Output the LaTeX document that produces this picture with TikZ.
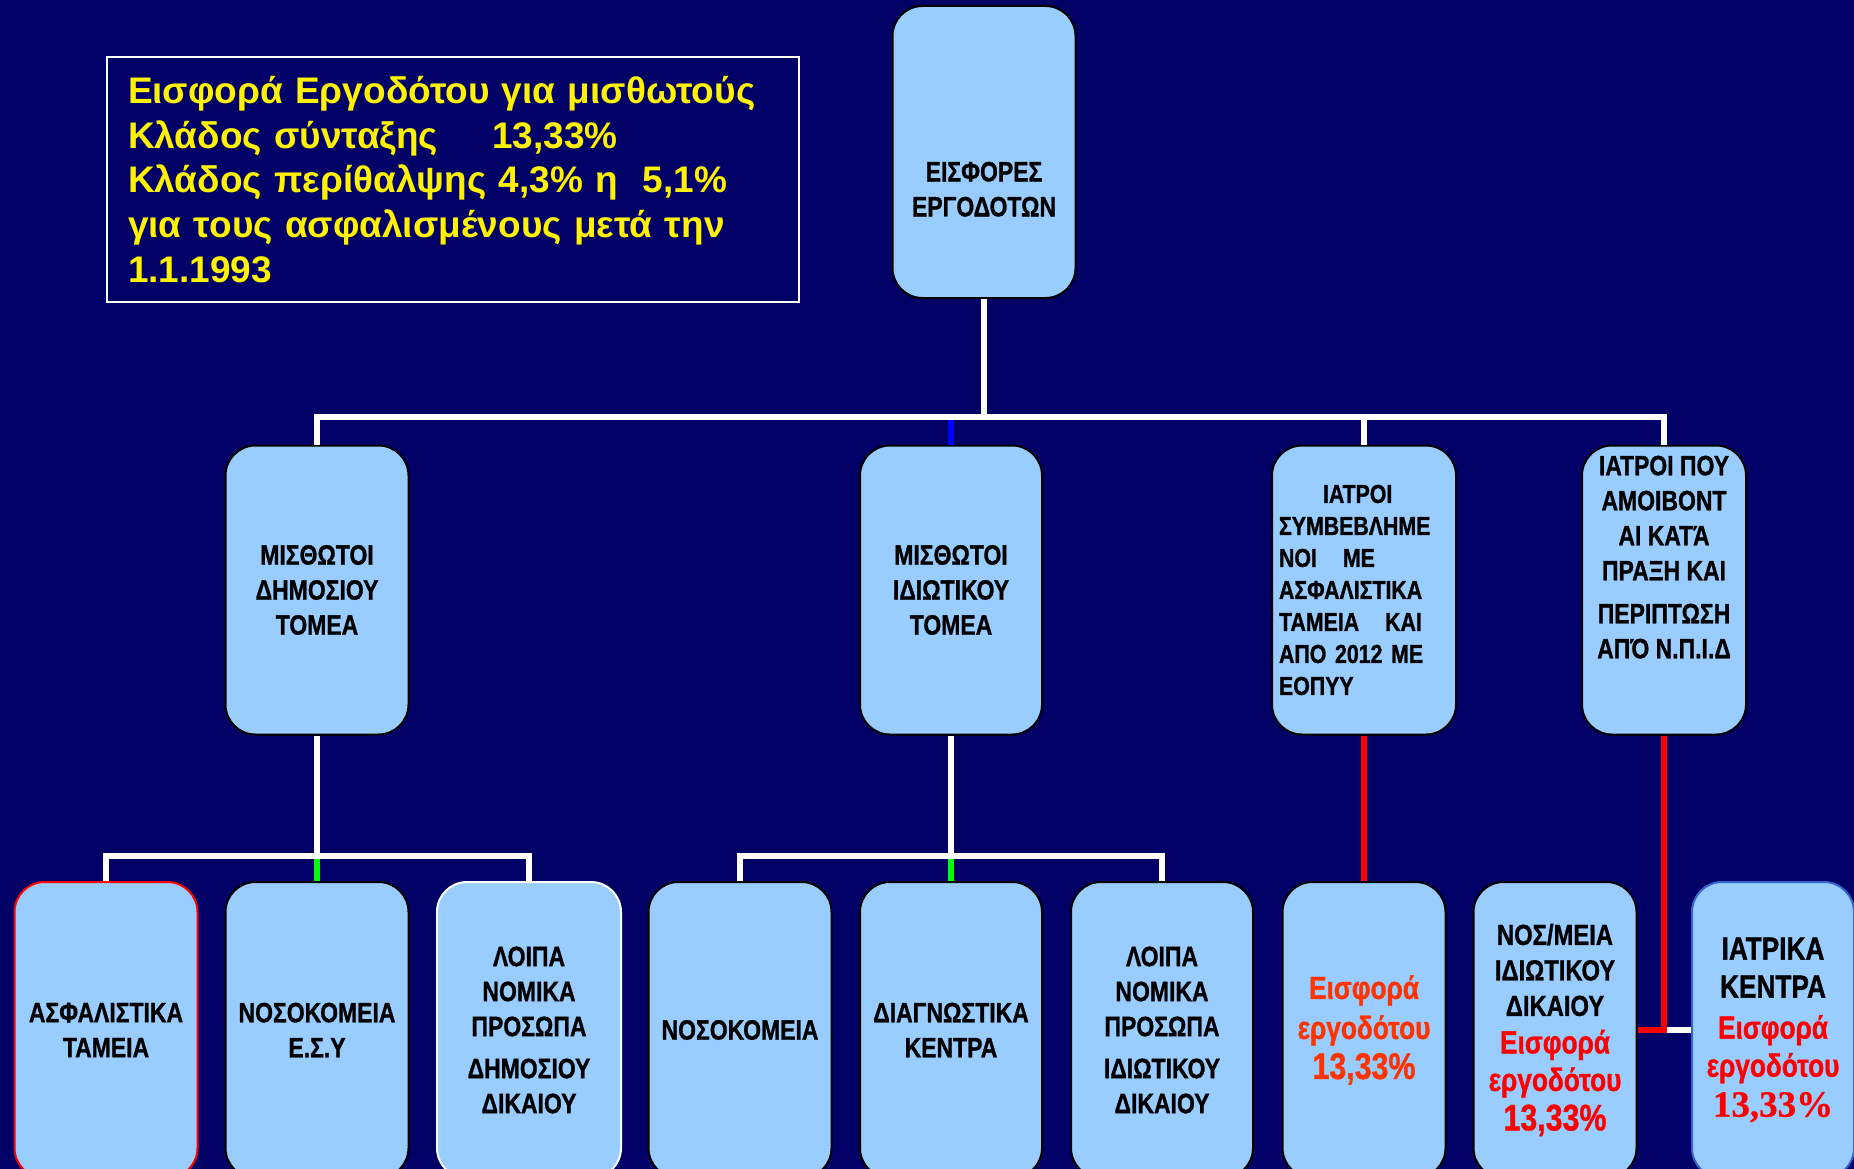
\documentclass[tikz,border=0pt]{standalone}
\usepackage{fontspec}
\setmainfont{Liberation Sans}
\newfontfamily\narrowsf[FakeStretch=0.82,FakeBold=1]{Liberation Sans Bold}
\newfontfamily\timesrm[BoldFeatures={FakeBold=0.6}]{Liberation Serif}
\usetikzlibrary{positioning}
\definecolor{navy}{HTML}{000066}
\definecolor{boxblue}{HTML}{99CCFF}
\definecolor{orangered}{HTML}{FF3300}
\definecolor{frameblue}{HTML}{3366CC}
\tikzset{
  box/.style={draw=black, line width=2pt, fill=boxblue, rounded corners=30pt,
    minimum width=183pt, minimum height=289pt, inner sep=2pt, align=center,
    font=\narrowsf\fontsize{28}{35}\selectfont},
  leaf/.style={box, minimum height=296pt},
  wire/.style={white, line width=6pt},
  wiregr/.style={green, line width=6pt},
  wirebl/.style={blue, line width=6pt},
  wirerd/.style={red, line width=6pt}
}
\newcommand{\redln}[2][32]{\textcolor{red}{\fontsize{#1}{38}\selectfont #2}}

\begin{document}
\begin{tikzpicture}[x=1pt,y=-1pt]
\useasboundingbox (0,0) rectangle (1854,1169);
\clip (0,0) rectangle (1854,1169);
\fill[navy] (0,0) rectangle (1854,1169);

\node[draw=white, line width=2pt, anchor=north west, minimum width=692pt, minimum height=245pt,
  text width=650pt, inner xsep=21pt, align=left, text=yellow,
  font=\bfseries\fontsize{37}{44.7}\selectfont] (note) at (106,56)
  {Εισφορά Εργοδότου για μισθωτούς\\Κλάδος σύνταξης\hspace{54pt}13,33\%\\Κλάδος περίθαλψης 4,3\% η~~5,1\%\\για τους ασφαλισμένους μετά την\\1.1.1993};

\node[box, minimum height=292pt] (top) at (984,152) {\mbox{}\\[59pt]ΕΙΣΦΟΡΕΣ\\ΕΡΓΟΔΟΤΩΝ};

\node[box] (A) at (317,590) {ΜΙΣΘΩΤΟΙ\\ΔΗΜΟΣΙΟΥ\\ΤΟΜΕΑ};
\node[box, minimum width=182pt] (B) at (951,590) {ΜΙΣΘΩΤΟΙ\\ΙΔΙΩΤΙΚΟΥ\\ΤΟΜΕΑ};
\node[box, minimum width=184pt, align=left, text width=170pt,
  font=\narrowsf\fontsize{26}{32}\selectfont] (C) at (1364,590)
  {\hspace*{44pt}ΙΑΤΡΟΙ\\ΣΥΜΒΕΒΛΗΜΕ\\ΝΟΙ~~~ΜΕ\\ΑΣΦΑΛΙΣΤΙΚΑ\\ΤΑΜΕΙΑ~~~ΚΑΙ\\ΑΠΟ 2012 ΜΕ\\ΕΟΠΥΥ};
\node[box, minimum width=164pt] (D) at (1664,590)
  {ΙΑΤΡΟΙ ΠΟΥ\\ΑΜΟΙΒΟΝΤ\\ΑΙ ΚΑΤΆ\\ΠΡΑΞΗ ΚΑΙ\\[8pt]ΠΕΡΙΠΤΩΣΗ\\ΑΠΌ Ν.Π.Ι.Δ\\[31pt]\mbox{}};

\node[leaf, draw=red] (L1) at (106,1030) {ΑΣΦΑΛΙΣΤΙΚΑ\\ΤΑΜΕΙΑ};
\node[leaf] (L2) at (317,1030) {ΝΟΣΟΚΟΜΕΙΑ\\Ε.Σ.Υ};
\node[leaf, draw=white, minimum width=184pt] (L3) at (529,1030)
  {ΛΟΙΠΑ\\ΝΟΜΙΚΑ\\ΠΡΟΣΩΠΑ\\[7pt]ΔΗΜΟΣΙΟΥ\\ΔΙΚΑΙΟΥ};
\node[leaf] (L4) at (740,1030) {ΝΟΣΟΚΟΜΕΙΑ};
\node[leaf, minimum width=182pt] (L5) at (951,1030) {ΔΙΑΓΝΩΣΤΙΚΑ\\ΚΕΝΤΡΑ};
\node[leaf, minimum width=182pt] (L6) at (1162,1030)
  {ΛΟΙΠΑ\\ΝΟΜΙΚΑ\\ΠΡΟΣΩΠΑ\\[7pt]ΙΔΙΩΤΙΚΟΥ\\ΔΙΚΑΙΟΥ};
\node[leaf, minimum width=163pt, text=orangered,
  font=\narrowsf\fontsize{32}{40}\selectfont] (L7) at (1364,1030)
  {Εισφορά\\εργοδότου\\{\fontsize{37}{40}\selectfont 13,33\%}};
\node[leaf, minimum width=163pt, font=\narrowsf\fontsize{29}{35.5}\selectfont] (L8) at (1555,1030)
  {ΝΟΣ/ΜΕΙΑ\\ΙΔΙΩΤΙΚΟΥ\\ΔΙΚΑΙΟΥ\\[2pt]\redln{Εισφορά}\\[2pt]\redln{εργοδότου}\\[4pt]\redln[37]{13,33\%}};
\node[leaf, draw=frameblue, minimum width=162pt, font=\narrowsf\fontsize{32}{38}\selectfont] (L9) at (1773,1030)
  {ΙΑΤΡΙΚΑ\\ΚΕΝΤΡΑ\\[3pt]\textcolor{red}{Εισφορά}\\\textcolor{red}{εργοδότου}\\[2pt]\textcolor{red}{\timesrm\bfseries\fontsize{37}{40}\selectfont 13,33\%}};

\coordinate (hub) at (984,417);
\coordinate (hubA) at (317,856);
\coordinate (hubB) at (951,856);

\draw[wirebl] (B.north) -- (B.north |- hub);
\draw[wire] (top.south) -- (hub);
\draw[wire] (A.north) |- (hub) -| (D.north);
\draw[wire] (C.north) -- (C.north |- hub);

\draw[wiregr] (L2.north) -- (hubA);
\draw[wire] (A.south) -- (hubA);
\draw[wire] (L1.north) |- (hubA) -| (L3.north);

\draw[wiregr] (L5.north) -- (hubB);
\draw[wire] (B.south) -- (hubB);
\draw[wire] (L4.north) |- (hubB) -| (L6.north);

\draw[wirerd] (C.south) -- (L7.north);
\draw[wire] (D.south |- L9.west) -- (L9.west);
\draw[wirerd] (D.south) |- (L8.east);
\end{tikzpicture}
\end{document}
